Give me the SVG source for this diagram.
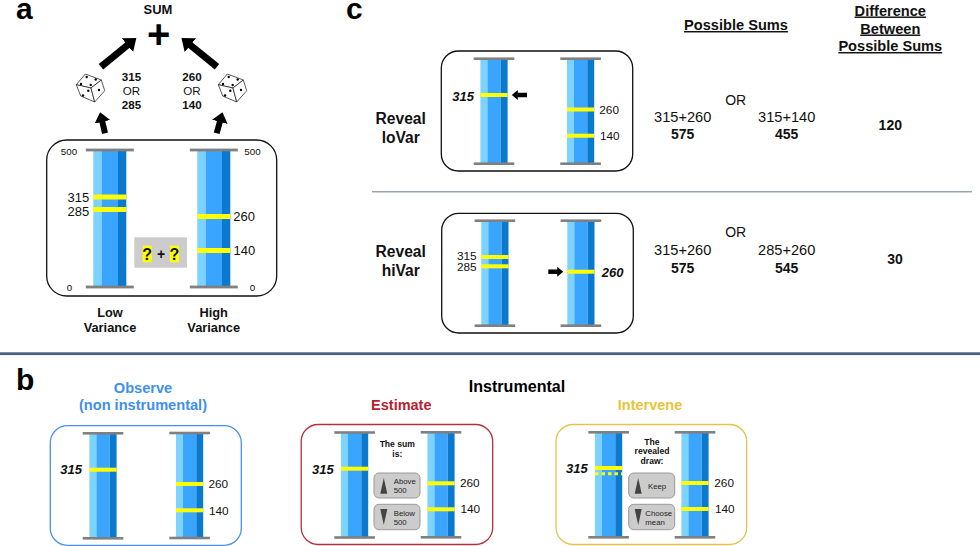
<svg xmlns="http://www.w3.org/2000/svg" width="980" height="546" viewBox="0 0 980 546">
<style>
text{font-family:"Liberation Sans",Arial,sans-serif;fill:#111}
.b{font-weight:700}.m{text-anchor:middle}.e{text-anchor:end}
.i{font-weight:700;font-style:italic;font-size:13px}
.n{font-size:11.8px}.p{font-size:13px}.t{font-size:9.8px}.h{font-size:30px;font-weight:700;fill:#000}
.s{font-size:14.6px}.u{text-decoration:underline}.l{font-size:15.6px;font-weight:700}
.v{font-size:12.8px;font-weight:700}.d{font-size:11.6px}.k{font-size:8.6px}.w{font-size:7.8px;fill:#222}
.box{fill:#fff;stroke:#111;stroke-width:1.3}
.y{fill:#ff0}.btn{fill:#ccc;stroke:#999;stroke-width:1}.tri{fill:#444}
.die{fill:#fff;stroke:#111;stroke-width:.7;stroke-linejoin:round}
.a1{stroke:#000;stroke-width:7;fill:none}.a2{stroke:#000;stroke-width:6;fill:none}.a3{stroke:#000;stroke-width:4.5;fill:none}
</style>
<defs>
<marker id="head" markerUnits="userSpaceOnUse" markerWidth="13" markerHeight="19" refX="0.5" refY="9" orient="auto"><path d="M0 0L11.500 9L0 18Z" fill="#000"/></marker>
<marker id="head2" markerUnits="userSpaceOnUse" markerWidth="12" markerHeight="18" refX="0.5" refY="8" orient="auto"><path d="M0 0L10 8L0 16Z" fill="#000"/></marker>
<marker id="head3" markerUnits="userSpaceOnUse" markerWidth="8" markerHeight="11" refX="0.5" refY="5" orient="auto"><path d="M0 0L6 5L0 10Z" fill="#000"/></marker>
<g id="bar"><rect x="0" y="0" width="7" height="105" fill="#7cd3ff"/><rect x="7" y="0" width="13.3" height="105" fill="#39a5ff"/><rect x="20.3" y="0" width="6.9" height="105" fill="#0b79cd"/><rect x="-6.7" y="-1.3" width="40.6" height="2.6" fill="#808080"/><rect x="-6.7" y="103.7" width="40.6" height="2.6" fill="#808080"/></g>
<g id="barL"><rect x="0" y="0" width="8.3" height="137" fill="#7cd3ff"/><rect x="8.3" y="0" width="16.4" height="137" fill="#39a5ff"/><rect x="24.7" y="0" width="8.3" height="137" fill="#0b79cd"/><rect x="-7.5" y="-1.4" width="48" height="2.8" fill="#808080"/><rect x="-7.5" y="135.6" width="48" height="2.8" fill="#808080"/></g>
<g id="die"><path class="die" d="M85.3 74L101.3 80L91 88L76.3 84.7Z"/><path class="die" d="M76.3 84.7L91 88L94.7 102L80.7 96Z"/><path class="die" d="M91 88L101.3 80L104.7 90.7L94.7 102Z"/><circle cx="86.7" cy="77" r="1.2"/><circle cx="95.7" cy="79.5" r="1.2"/><circle cx="81" cy="84" r="1.2"/><circle cx="90.7" cy="85" r="1.2"/><circle cx="88.3" cy="90.7" r="1.2"/><circle cx="83" cy="95.5" r="1.2"/><circle cx="99" cy="90" r="1.2"/></g>
</defs>
<rect width="980" height="546" fill="#fff"/>

<g id="separators">
<rect x="372" y="191.200" width="600" height="1.200" fill="#7b8ea3"/>
<rect x="0" y="352.300" width="980" height="2.800" fill="#4b607f"/>
</g>

<g id="panel-a">
<text class="h" x="16" y="19">a</text>
<g id="sum"><text class="b m" x="158" y="14" font-size="13">SUM</text><text class="b m" x="158.600" y="47.500" font-size="40" style="fill:#000">+</text></g>
<g id="die-left"><use href="#die"/></g>
<g id="die-right"><use href="#die" x="142"/></g>
<g id="values-low" class="d"><text class="b m" x="131.500" y="81">315</text><text class="m" x="131.500" y="94.500">OR</text><text class="b m" x="131.500" y="108.500">285</text></g>
<g id="values-high" class="d"><text class="b m" x="192" y="81">260</text><text class="m" x="192" y="94.500">OR</text><text class="b m" x="192" y="108.500">140</text></g>
<g id="box-a">
<rect class="box" x="46.700" y="140" width="230" height="156" rx="20"/>
<use href="#barL" x="93.300" y="150"/><use href="#barL" x="197.300" y="150"/>
<rect class="y" x="93.300" y="194.500" width="33" height="5"/><rect class="y" x="93.300" y="207" width="33" height="5"/>
<rect class="y" x="197.300" y="214" width="33" height="5"/><rect class="y" x="197.300" y="248" width="33" height="5"/>
<text class="t m" x="69" y="155">500</text><text class="t m" x="252.500" y="155">500</text><text class="t m" x="69.500" y="291">0</text><text class="t m" x="252.500" y="291">0</text>
<text class="p e" x="89.300" y="201.500">315</text><text class="p e" x="89.300" y="215.500">285</text>
<text class="p" x="233.300" y="221">260</text><text class="p" x="233.500" y="254.500">140</text>
<rect x="134.300" y="237.300" width="52.700" height="30.400" fill="#ccc"/>
<rect class="y" x="142.700" y="245.700" width="9" height="16.600"/><rect class="y" x="170" y="245.700" width="9" height="16.600"/>
<text class="b m" x="147.200" y="259.500" font-size="16">?</text><text class="b m" x="161" y="258.500" font-size="14">+</text><text class="b m" x="174.500" y="259.500" font-size="16">?</text>
</g>
<g id="label-low"><text class="v m" x="110" y="316.500">Low</text><text class="v m" x="110" y="332">Variance</text></g>
<g id="label-high"><text class="v m" x="213.700" y="316.500">High</text><text class="v m" x="213.700" y="332">Variance</text></g>
</g>

<g id="panel-b">
<text class="h" x="16" y="390">b</text>
<text class="b m" x="143" y="392.700" font-size="14.600" style="fill:#3f8ff0">Observe</text>
<text class="b m" x="143" y="410" font-size="14.600" style="fill:#3f8ff0">(non instrumental)</text>
<text class="b m" x="517" y="392" font-size="16.100" style="fill:#000">Instrumental</text>
<text class="b m" x="401.300" y="409.700" font-size="14.500" style="fill:#b8212f">Estimate</text>
<text class="b m" x="650" y="409.700" font-size="14.500" style="fill:#e8c33a">Intervene</text>

<g id="box-observe">
<rect x="50.300" y="425.700" width="191" height="119.600" rx="17" fill="#fff" stroke="#4a90e8" stroke-width="1.300"/>
<use href="#bar" x="89.400" y="433.300"/><use href="#bar" x="176" y="433"/>
<rect class="y" x="89.400" y="467.700" width="27.200" height="4"/><rect class="y" x="176" y="482" width="27.200" height="4"/><rect class="y" x="176" y="508.300" width="27.200" height="4"/>
<text class="i e" x="82" y="474">315</text><text class="n" x="208.500" y="488">260</text><text class="n" x="209" y="514.500">140</text>
</g>

<g id="box-estimate">
<rect x="301.200" y="424.500" width="191.500" height="120" rx="17" fill="#fff" stroke="#b5303c" stroke-width="1.300"/>
<use href="#bar" x="341" y="432.500"/><use href="#bar" x="427.400" y="432.300"/>
<rect class="y" x="341" y="466.700" width="27.200" height="4"/><rect class="y" x="427.400" y="481.300" width="27.200" height="4"/><rect class="y" x="427.400" y="507.300" width="27.200" height="4"/>
<text class="i e" x="333.700" y="474">315</text><text class="n" x="460" y="487">260</text><text class="n" x="460.500" y="513">140</text>
<text class="k b m" x="397.300" y="447.300">The sum</text><text class="k b m" x="397.300" y="456.700">is:</text>
<rect class="btn" x="374" y="473" width="46" height="25" rx="5"/><path class="tri" d="M383.800 478L387.300 493.700H380.300Z"/>
<text class="w" x="393.700" y="484">Above</text><text class="w" x="393.700" y="493">500</text>
<rect class="btn" x="374" y="504.300" width="46" height="25.400" rx="5"/><path class="tri" d="M380.300 509H387.300L383.800 525Z"/>
<text class="w" x="393.700" y="515.500">Below</text><text class="w" x="393.700" y="525">500</text>
</g>

<g id="box-intervene">
<rect x="556" y="424.500" width="190.700" height="120" rx="17" fill="#fff" stroke="#e5c24c" stroke-width="1.300"/>
<use href="#bar" x="595" y="432.300"/><use href="#bar" x="681.400" y="432.300"/>
<rect class="y" x="595" y="466" width="27.200" height="4"/>
<line x1="595" y1="473.700" x2="622.200" y2="473.700" stroke="#ff0" stroke-width="3" stroke-dasharray="3.500 3"/>
<rect class="y" x="681.400" y="481" width="27.200" height="4"/><rect class="y" x="681.400" y="507" width="27.200" height="4"/>
<text class="i e" x="587.700" y="473">315</text><text class="n" x="714.300" y="487">260</text><text class="n" x="715" y="513">140</text>
<text class="k b m" x="652" y="445">The</text><text class="k b m" x="652" y="454.300">revealed</text><text class="k b m" x="652" y="464">draw:</text>
<rect class="btn" x="628.700" y="473" width="46" height="25" rx="5"/><path class="tri" d="M638.200 478L641.700 493.700H634.700Z"/>
<text class="w" x="648" y="489">Keep</text>
<rect class="btn" x="628.700" y="504.300" width="46" height="25.400" rx="5"/><path class="tri" d="M634.700 509H641.700L638.200 525Z"/>
<text class="w" x="645.300" y="515.500">Choose</text><text class="w" x="645.300" y="525">mean</text>
</g>
</g>

<g id="panel-c">
<text class="h" x="346" y="19">c</text>
<text class="l m" x="400.700" y="124">Reveal</text><text class="l m" x="400.700" y="143">loVar</text>
<text class="l m" x="400.700" y="257">Reveal</text><text class="l m" x="400.700" y="276">hiVar</text>
<g id="box-lovar">
<rect class="box" x="441.300" y="51" width="191.400" height="120" rx="17"/>
<use href="#bar" x="480.400" y="58.700"/><use href="#bar" x="567" y="58.700"/>
<rect class="y" x="480.400" y="93" width="27.200" height="4"/><rect class="y" x="567" y="107.500" width="27.200" height="4"/><rect class="y" x="567" y="133.700" width="27.200" height="4"/>
<text class="i e" x="474" y="100.500">315</text><text class="n" x="599.300" y="113.500">260</text><text class="n" x="600" y="140">140</text>
</g>
<g id="box-hivar">
<rect class="box" x="441.700" y="213.300" width="191.600" height="119.700" rx="17"/>
<use href="#bar" x="481.300" y="220.700"/><use href="#bar" x="567.300" y="220.700"/>
<rect class="y" x="481.300" y="255" width="27.200" height="4"/><rect class="y" x="481.300" y="264.300" width="27.200" height="4"/><rect class="y" x="567.300" y="269.700" width="27.200" height="4"/>
<text class="n e" x="476.700" y="260">315</text><text class="n e" x="476.700" y="271">285</text><text class="i" x="601.700" y="277">260</text>
</g>
<g id="heading-sums"><text class="b m s u" x="736" y="30">Possible Sums</text></g>
<g id="heading-diff"><text class="b m s u" x="890.300" y="15.500">Difference</text><text class="b m s u" x="890.300" y="33.500">Between</text><text class="b m s u" x="890.300" y="51">Possible Sums</text></g>
<g id="row-lovar">
<text class="m" font-size="14" x="735.700" y="104.500">OR</text>
<text class="m s" x="682.700" y="121.700">315+260</text><text class="b m" font-size="14" x="682.700" y="139">575</text>
<text class="m s" x="786.700" y="121.700">315+140</text><text class="b m" font-size="14" x="786.700" y="139">455</text>
<text class="b m" font-size="14" x="890.300" y="130">120</text>
</g>
<g id="row-hivar">
<text class="m" font-size="14" x="735.700" y="237.300">OR</text>
<text class="m s" x="682.700" y="255">315+260</text><text class="b m" font-size="14" x="682.700" y="273">575</text>
<text class="m s" x="786.700" y="255">285+260</text><text class="b m" font-size="14" x="786.700" y="273">545</text>
<text class="b m" font-size="14" x="895" y="264.300">30</text>
</g>
</g>

<g id="connectors">
<line class="a1" x1="101" y1="66.700" x2="127.800" y2="44.900" marker-end="url(#head)"/>
<line class="a1" x1="217" y1="66.700" x2="190" y2="44.900" marker-end="url(#head)"/>
<line class="a2" x1="105" y1="133.300" x2="102.250" y2="121.400" marker-end="url(#head2)"/>
<line class="a2" x1="216.700" y1="133.300" x2="220" y2="121.300" marker-end="url(#head2)"/>
<line class="a3" x1="527" y1="95" x2="517.300" y2="95" marker-end="url(#head3)"/>
<line class="a3" x1="548.300" y1="271.700" x2="557.700" y2="271.700" marker-end="url(#head3)"/>
</g>
</svg>
